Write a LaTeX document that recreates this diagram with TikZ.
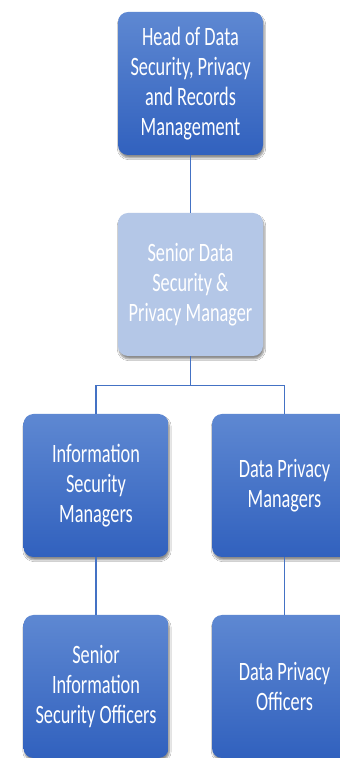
\documentclass[tikz,border=0pt]{standalone}
\usepackage{fontspec}
\usetikzlibrary{shadows.blur}
\newfontfamily\boxfont[FakeStretch=0.69]{Carlito}
\definecolor{boxtop}{RGB}{94,136,210}
\definecolor{boxbot}{RGB}{49,97,190}
\definecolor{boxpale}{RGB}{180,199,231}
\definecolor{linkblue}{RGB}{68,114,196}

\begin{document}
\begin{tikzpicture}[x=1pt,y=1pt,
	unit/.style={rounded corners=10pt, minimum width=145pt, minimum height=143pt,
		inner sep=0pt, align=center, text=white,
		font=\boxfont\fontsize{26.5}{30}\selectfont,
		blur shadow={shadow xshift=1pt, shadow yshift=-3pt, shadow opacity=45, shadow blur steps=6}},
	dark/.style={unit, top color=boxtop, bottom color=boxbot},
	pale/.style={unit, fill=boxpale},
	link/.style={draw=linkblue, line width=1.3pt}]
	\clip (0,0) rectangle (340,758);
	\fill[white] (0,0) rectangle (340,758);

	\node[dark] (head) at (190.5,674.5) {Head of Data\\Security, Privacy\\and Records\\Management};
	\node[pale] (senior) at (190.5,473.5) {Senior Data\\Security \&\\Privacy Manager};
	\node[dark] (infosec) at (96,272.5) {Information\\Security\\Managers};
	\node[dark] (privmgr) at (284.5,272.5) {Data Privacy\\Managers};
	\node[dark] (infoofficer) at (96,71.5) {Senior\\Information\\Security Officers};
	\node[dark] (privofficer) at (284.5,71.5) {Data Privacy\\Officers};

	\draw[link] (head.south) -- (senior.north);
	\draw[link] (senior.south) -- ++(0,-29) coordinate (fork);
	\draw[link] (fork) -| (infosec.north);
	\draw[link] (fork) -| (privmgr.north);
	\draw[link] (infosec.south) -- (infoofficer.north);
	\draw[link] (privmgr.south) -- (privofficer.north);
\end{tikzpicture}
\end{document}
